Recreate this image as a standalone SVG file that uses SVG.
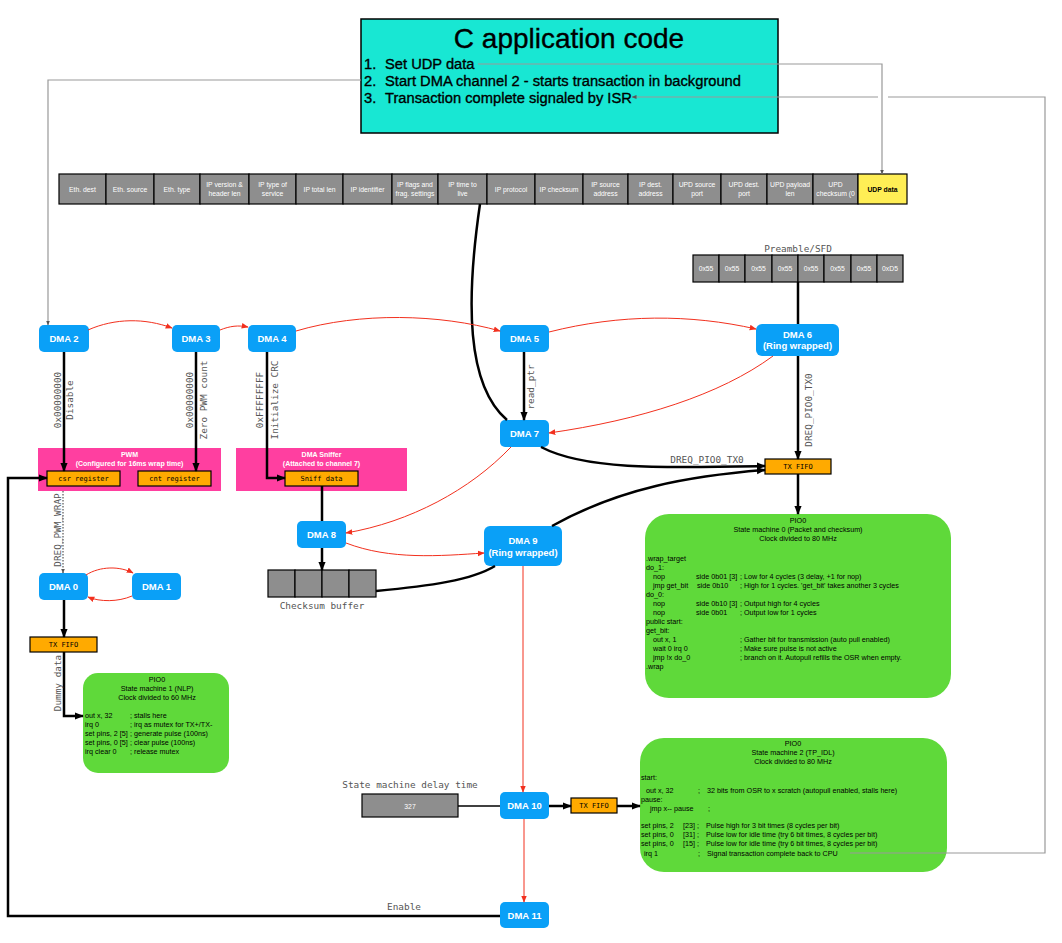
<svg xmlns="http://www.w3.org/2000/svg" width="1062" height="943" viewBox="0 0 1062 943">
<style>
.dma{fill:#0AA0F7}
.dt{font-family:"Liberation Sans",Arial,sans-serif;font-size:9.5px;font-weight:bold;fill:#fff;text-anchor:middle}
.hc{fill:#8E8E8E;stroke:#000;stroke-width:1.2}
.ht{font-family:"Liberation Sans",Arial,sans-serif;font-size:6.8px;fill:#fff;text-anchor:middle}
.pc{fill:#8E8E8E;stroke:#000;stroke-width:1.2}
.pt{font-family:"Liberation Sans",Arial,sans-serif;font-size:6.8px;fill:#fff;text-anchor:middle}
.lblm{font-family:"DejaVu Sans Mono","Liberation Mono",monospace;font-size:9.4px;fill:#555;text-anchor:middle}
.or{fill:#FFAA00;stroke:#000;stroke-width:1.2}
.ot{font-family:"DejaVu Sans Mono","Liberation Mono",monospace;font-size:7px;fill:#000;text-anchor:middle}
.pink{fill:#FF3FA0}
.pkt{font-family:"Liberation Sans",Arial,sans-serif;font-size:7px;font-weight:bold;fill:#fff;text-anchor:middle}
.green{fill:#5FD93A}
.gt{font-family:"Liberation Sans",Arial,sans-serif;font-size:7.2px;fill:#000}
.gtc{font-family:"Liberation Sans",Arial,sans-serif;font-size:7.2px;fill:#000;text-anchor:middle}
.blk{fill:none;stroke:#000;stroke-width:2.5}
.thin{fill:none;stroke:#000;stroke-width:1.5}
.red{fill:none;stroke:#F2301E;stroke-width:1}
.gray{fill:none;stroke:#999;stroke-width:1.2}
.ct{font-family:"Liberation Sans",Arial,sans-serif;fill:#000;stroke:#000;stroke-width:0.35}
</style>
<defs>
<marker id="ab" viewBox="0 0 10 10" refX="9" refY="5" markerWidth="9" markerHeight="9" orient="auto" markerUnits="userSpaceOnUse"><path d="M0,1 L10,5 L0,9 z" fill="#000"/></marker>
<marker id="ar" viewBox="0 0 10 10" refX="9" refY="5" markerWidth="7" markerHeight="7" orient="auto" markerUnits="userSpaceOnUse"><path d="M0,1 L10,5 L0,9 z" fill="#F2301E"/></marker>
<marker id="ag" viewBox="0 0 10 10" refX="9" refY="5" markerWidth="5" markerHeight="5" orient="auto" markerUnits="userSpaceOnUse"><path d="M0,1 L10,5 L0,9 z" fill="#555"/></marker>
</defs>
<rect width="1062" height="943" fill="#fff"/>

<g id="app">
<rect x="361" y="19" width="417" height="114" fill="#18E7D3" stroke="#000" stroke-width="1.5"/>
<text x="569" y="48" class="ct" font-size="28" text-anchor="middle" stroke-width="0.3">C application code</text>
<text x="364" y="69" class="ct" font-size="14.7">1.</text><text x="385" y="69" class="ct" font-size="14.7">Set UDP data</text>
<text x="364" y="86" class="ct" font-size="14.7">2.</text><text x="385" y="86" class="ct" font-size="14.7">Start DMA channel 2 - starts transaction in background</text>
<text x="364" y="103" class="ct" font-size="14.7">3.</text><text x="385" y="103" class="ct" font-size="14.7">Transaction complete signaled by ISR</text>
</g>

<g id="header">
<rect class="hc" x="59" y="174" width="47" height="30"/><text class="ht" x="82.5" y="191.5">Eth. dest</text>
<rect class="hc" x="106" y="174" width="48" height="30"/><text class="ht" x="130" y="191.5">Eth. source</text>
<rect class="hc" x="154" y="174" width="46" height="30"/><text class="ht" x="177" y="191.5">Eth. type</text>
<rect class="hc" x="200" y="174" width="49" height="30"/><text class="ht" x="224.5" y="187">IP version &amp;</text><text class="ht" x="224.5" y="196">header len</text>
<rect class="hc" x="249" y="174" width="47" height="30"/><text class="ht" x="272.5" y="187">IP type of</text><text class="ht" x="272.5" y="196">service</text>
<rect class="hc" x="296" y="174" width="47" height="30"/><text class="ht" x="319.5" y="191.5">IP total len</text>
<rect class="hc" x="343" y="174" width="49" height="30"/><text class="ht" x="367.5" y="191.5">IP identifier</text>
<rect class="hc" x="392" y="174" width="46" height="30"/><text class="ht" x="415" y="187">IP flags and</text><text class="ht" x="415" y="196">frag. settings</text>
<rect class="hc" x="438" y="174" width="49" height="30"/><text class="ht" x="462.5" y="187">IP time to</text><text class="ht" x="462.5" y="196">live</text>
<rect class="hc" x="487" y="174" width="48" height="30"/><text class="ht" x="511" y="191.5">IP protocol</text>
<rect class="hc" x="535" y="174" width="48" height="30"/><text class="ht" x="559" y="191.5">IP checksum</text>
<rect class="hc" x="583" y="174" width="45" height="30"/><text class="ht" x="605.5" y="187">IP source</text><text class="ht" x="605.5" y="196">address</text>
<rect class="hc" x="628" y="174" width="45" height="30"/><text class="ht" x="650.5" y="187">IP dest.</text><text class="ht" x="650.5" y="196">address</text>
<rect class="hc" x="673" y="174" width="48" height="30"/><text class="ht" x="697" y="187">UPD source</text><text class="ht" x="697" y="196">port</text>
<rect class="hc" x="721" y="174" width="46" height="30"/><text class="ht" x="744" y="187">UPD dest.</text><text class="ht" x="744" y="196">port</text>
<rect class="hc" x="767" y="174" width="46" height="30"/><text class="ht" x="790" y="187">UPD payload</text><text class="ht" x="790" y="196">len</text>
<rect class="hc" x="813" y="174" width="45" height="30"/><text class="ht" x="835.5" y="187">UPD</text><text class="ht" x="835.5" y="196">checksum (0</text>
<rect x="858" y="174" width="49" height="30" fill="#FFEE55" stroke="#000" stroke-width="1.2"/><text class="ht" x="882.5" y="191.5" style="fill:#000;font-weight:bold">UDP data</text>
</g>

<g id="preamble">
<text class="lblm" x="798" y="252">Preamble/SFD</text>
<rect class="pc" x="693" y="255" width="26" height="27"/><text class="pt" x="706" y="271">0x55</text>
<rect class="pc" x="719" y="255" width="26" height="27"/><text class="pt" x="732" y="271">0x55</text>
<rect class="pc" x="745" y="255" width="27" height="27"/><text class="pt" x="758.5" y="271">0x55</text>
<rect class="pc" x="772" y="255" width="26" height="27"/><text class="pt" x="785" y="271">0x55</text>
<rect class="pc" x="798" y="255" width="26" height="27"/><text class="pt" x="811" y="271">0x55</text>
<rect class="pc" x="824" y="255" width="27" height="27"/><text class="pt" x="837.5" y="271">0x55</text>
<rect class="pc" x="851" y="255" width="26" height="27"/><text class="pt" x="864" y="271">0x55</text>
<rect class="pc" x="877" y="255" width="26" height="27"/><text class="pt" x="890" y="271">0xD5</text>
</g>

<g id="pwm">
<rect class="pink" x="38" y="448" width="183" height="43"/>
<text class="pkt" x="129.5" y="457">PWM</text>
<text class="pkt" x="129.5" y="466">(Configured for 16ms wrap time)</text>
<rect class="or" x="47" y="471" width="73" height="15"/><text class="ot" x="83.5" y="481">csr register</text>
<rect class="or" x="138" y="471" width="73" height="15"/><text class="ot" x="174.5" y="481">cnt register</text>
</g>

<g id="sniffer">
<rect class="pink" x="236" y="448" width="171" height="43"/>
<text class="pkt" x="321.5" y="457">DMA Sniffer</text>
<text class="pkt" x="321.5" y="466">(Attached to channel 7)</text>
<rect class="or" x="285" y="471" width="73" height="15"/><text class="ot" x="321.5" y="481">Sniff data</text>
</g>

<g id="checksum-buffer">
<rect class="pc" x="268" y="570" width="27" height="27"/>
<rect class="pc" x="295" y="570" width="27" height="27"/>
<rect class="pc" x="322" y="570" width="27" height="27"/>
<rect class="pc" x="349" y="570" width="27" height="27"/>
<text class="lblm" x="322" y="609">Checksum buffer</text>
</g>

<g id="delay">
<text class="lblm" x="410" y="788">State machine delay time</text>
<rect class="pc" x="362" y="794" width="96" height="23"/><text class="pt" x="410" y="808.5">327</text>
</g>

<g id="txfifo-a"><rect class="or" x="765" y="459" width="66" height="15"/><text class="ot" x="798" y="469">TX FIFO</text></g>
<g id="txfifo-b"><rect class="or" x="30" y="637" width="67" height="15"/><text class="ot" x="63.5" y="647">TX FIFO</text></g>
<g id="txfifo-c"><rect class="or" x="571" y="798" width="46" height="15"/><text class="ot" x="594" y="808">TX FIFO</text></g>

<g id="dma2"><rect class="dma" x="39" y="325" width="50" height="27" rx="5"/><text class="dt" x="64" y="342">DMA 2</text></g>
<g id="dma3"><rect class="dma" x="172" y="325" width="48" height="27" rx="5"/><text class="dt" x="196" y="342">DMA 3</text></g>
<g id="dma4"><rect class="dma" x="248" y="325" width="48" height="27" rx="5"/><text class="dt" x="272" y="342">DMA 4</text></g>
<g id="dma5"><rect class="dma" x="500" y="325" width="49" height="27" rx="5"/><text class="dt" x="524.5" y="342">DMA 5</text></g>
<g id="dma6"><rect class="dma" x="756" y="324" width="83" height="32" rx="6"/><text class="dt" x="797.5" y="337.5">DMA 6</text><text class="dt" x="797.5" y="349">(Ring wrapped)</text></g>
<g id="dma7"><rect class="dma" x="500" y="420" width="49" height="27" rx="5"/><text class="dt" x="524.5" y="437">DMA 7</text></g>
<g id="dma8"><rect class="dma" x="297" y="521" width="49" height="27" rx="5"/><text class="dt" x="321.5" y="538">DMA 8</text></g>
<g id="dma9"><rect class="dma" x="484" y="526" width="78" height="40" rx="6"/><text class="dt" x="523" y="544">DMA 9</text><text class="dt" x="523" y="556">(Ring wrapped)</text></g>
<g id="dma0"><rect class="dma" x="39" y="573" width="49" height="27" rx="5"/><text class="dt" x="63.5" y="590">DMA 0</text></g>
<g id="dma1"><rect class="dma" x="132" y="573" width="49" height="27" rx="5"/><text class="dt" x="156.5" y="590">DMA 1</text></g>
<g id="dma10"><rect class="dma" x="500" y="792" width="49" height="27" rx="5"/><text class="dt" x="524.5" y="809">DMA 10</text></g>
<g id="dma11"><rect class="dma" x="500" y="902" width="49" height="26" rx="5"/><text class="dt" x="524.5" y="919">DMA 11</text></g>

<g id="sm0">
<rect class="green" x="645" y="514" width="306" height="184" rx="24"/>
<text class="gtc" x="798" y="523">PIO0</text>
<text class="gtc" x="798" y="532">State machine 0 (Packet and checksum)</text>
<text class="gtc" x="798" y="541">Clock divided to 80 MHz</text>
<text class="gt" x="646" y="561">.wrap_target</text>
<text class="gt" x="646" y="570">do_1:</text>
<text class="gt" x="653" y="579">nop</text><text class="gt" x="696" y="579">side 0b01 [3]</text><text class="gt" x="740" y="579">; Low for 4 cycles (3 delay, +1 for nop)</text>
<text class="gt" x="653" y="588">jmp get_bit</text><text class="gt" x="697" y="588">side 0b10</text><text class="gt" x="740" y="588">; High for 1 cycles. 'get_bit' takes another 3 cycles</text>
<text class="gt" x="646" y="597">do_0:</text>
<text class="gt" x="653" y="606">nop</text><text class="gt" x="696" y="606">side 0b10 [3]</text><text class="gt" x="740" y="606">; Output high for 4 cycles</text>
<text class="gt" x="653" y="615">nop</text><text class="gt" x="696" y="615">side 0b01</text><text class="gt" x="740" y="615">; Output low for 1 cycles</text>
<text class="gt" x="646" y="624">public start:</text>
<text class="gt" x="646" y="633">get_bit:</text>
<text class="gt" x="653" y="642">out x, 1</text><text class="gt" x="740" y="642">; Gather bit for transmission (auto pull enabled)</text>
<text class="gt" x="653" y="651">wait 0 irq 0</text><text class="gt" x="740" y="651">; Make sure pulse is not active</text>
<text class="gt" x="653" y="660">jmp !x do_0</text><text class="gt" x="740" y="660">; branch on it. Autopull refills the OSR when empty.</text>
<text class="gt" x="646" y="669">.wrap</text>
</g>

<g id="sm1">
<rect class="green" x="83" y="673" width="146" height="100" rx="15"/>
<text class="gtc" x="157" y="682">PIO0</text>
<text class="gtc" x="157" y="691">State machine 1 (NLP)</text>
<text class="gtc" x="157" y="700">Clock divided to 60 MHz</text>
<text class="gt" x="85" y="718">out x, 32</text><text class="gt" x="130" y="718">; stalls here</text>
<text class="gt" x="85" y="727">irq 0</text><text class="gt" x="130" y="727">; irq as mutex for TX+/TX-</text>
<text class="gt" x="85" y="736">set pins, 2 [5]</text><text class="gt" x="130" y="736">; generate pulse (100ns)</text>
<text class="gt" x="85" y="745">set pins, 0 [5]</text><text class="gt" x="130" y="745">; clear pulse (100ns)</text>
<text class="gt" x="85" y="754">irq clear 0</text><text class="gt" x="130" y="754">; release mutex</text>
</g>

<g id="sm2">
<rect class="green" x="640" y="738" width="307" height="134" rx="24"/>
<text class="gtc" x="793" y="746">PIO0</text>
<text class="gtc" x="793" y="755">State machine 2 (TP_IDL)</text>
<text class="gtc" x="793" y="764">Clock divided to 80 MHz</text>
<text class="gt" x="641" y="780">start:</text>
<text class="gt" x="646" y="793">out x, 32</text><text class="gt" x="698" y="793">;</text><text class="gt" x="707" y="793">32 bits from OSR to x scratch (autopull enabled, stalls here)</text>
<text class="gt" x="641" y="802">pause:</text>
<text class="gt" x="650" y="811">jmp x-- pause</text><text class="gt" x="708" y="811">;</text>
<text class="gt" x="641" y="828">set pins, 2</text><text class="gt" x="683" y="828">[23] ;</text><text class="gt" x="706" y="828">Pulse high for 3 bit times (8 cycles per bit)</text>
<text class="gt" x="641" y="837">set pins, 0</text><text class="gt" x="683" y="837">[31] ;</text><text class="gt" x="706" y="837">Pulse low for idle time (try 6 bit times, 8 cycles per bit)</text>
<text class="gt" x="641" y="846">set pins, 0</text><text class="gt" x="683" y="846">[15] ;</text><text class="gt" x="706" y="846">Pulse low for idle time (try 6 bit times, 8 cycles per bit)</text>
<text class="gt" x="644" y="856">irq 1</text><text class="gt" x="698" y="856">;</text><text class="gt" x="707" y="856">Signal transaction complete back to CPU</text>
</g>

<g id="connectors">
<path class="gray" d="M478,64 L882,64 L882,174" marker-end="url(#ag)"/>
<path class="gray" d="M361,80 L48,80 L48,325" marker-end="url(#ag)"/>
<path class="gray" d="M850,853 L1045,853 L1045,97 L888,97"/>
<path class="gray" d="M878,97 L632,97" marker-end="url(#ag)"/>
<path class="blk" d="M480,204 C466,300 466,385 507,420"/>
<path class="blk" d="M798,282 L798,324"/>
<path class="blk" d="M64,352 L64,471" marker-end="url(#ab)"/>
<path class="blk" d="M196,352 L196,471" marker-end="url(#ab)"/>
<path class="blk" d="M267,352 L267,478 L285,478" marker-end="url(#ab)"/>
<path class="blk" d="M322,486 L322,521"/>
<path class="blk" d="M322,548 L322,570" marker-end="url(#ab)"/>
<path class="blk" d="M376,591 C430,586 472,580 495,566"/>
<path class="blk" d="M524,352 L524,420" marker-end="url(#ab)"/>
<path class="blk" d="M798,356 L798,459" marker-end="url(#ab)"/>
<path class="blk" d="M798,474 L798,514" marker-end="url(#ab)"/>
<path class="blk" d="M541,447 C585,470 660,468 765,466" marker-end="url(#ab)"/>
<path class="blk" d="M552,526 C620,488 690,476 765,470" marker-end="url(#ab)"/>
<path d="M63,491 L63,573" fill="none" stroke="#333" stroke-width="1" stroke-dasharray="1.5,1.5" marker-end="url(#ag)"/>
<path class="blk" d="M64,600 L64,637" marker-end="url(#ab)"/>
<path class="blk" d="M64,652 L64,716 L83,716" marker-end="url(#ab)"/>
<path class="thin" d="M458,806 L500,806"/>
<path class="blk" d="M549,806 L571,806" marker-end="url(#ab)"/>
<path class="blk" d="M617,806 L640,806" marker-end="url(#ab)"/>
<path class="blk" d="M500,916 L8,916 L8,478 L47,478" marker-end="url(#ab)"/>
<path class="red" d="M88,330 C115,318 145,318 172,328" marker-end="url(#ar)"/>
<path class="red" d="M220,330 C230,326 238,325 248,327" marker-end="url(#ar)"/>
<path class="red" d="M296,331 C360,312 440,314 500,331" marker-end="url(#ar)"/>
<path class="red" d="M549,332 C620,314 690,314 756,329" marker-end="url(#ar)"/>
<path class="red" d="M773,356 C720,395 640,420 549,433" marker-end="url(#ar)"/>
<path class="red" d="M511,447 C470,490 410,522 346,533" marker-end="url(#ar)"/>
<path class="red" d="M346,543 C390,560 440,556 484,553" marker-end="url(#ar)"/>
<path class="red" d="M86,575 C100,566 120,566 133,573" marker-end="url(#ar)"/>
<path class="red" d="M132,596 C118,602 100,602 88,597" marker-end="url(#ar)"/>
<path class="red" d="M523,566 L523,792" marker-end="url(#ar)"/>
<path class="red" d="M524,819 L524,902" marker-end="url(#ar)"/>
<text class="lblm" transform="rotate(-90 61 400)" x="61" y="400">0x00000000</text>
<text class="lblm" transform="rotate(-90 73 400)" x="73" y="400">Disable</text>
<text class="lblm" transform="rotate(-90 193 400)" x="193" y="400">0x00000000</text>
<text class="lblm" transform="rotate(-90 207 400)" x="207" y="400">Zero PWM count</text>
<text class="lblm" transform="rotate(-90 263 400)" x="263" y="400">0xFFFFFFFF</text>
<text class="lblm" transform="rotate(-90 278 400)" x="278" y="400">Initialize CRC</text>
<text class="lblm" transform="rotate(-90 534 387)" x="534" y="387">read_ptr</text>
<text class="lblm" transform="rotate(-90 812 410)" x="812" y="410">DREQ_PIO0_TX0</text>
<text class="lblm" x="707" y="463">DREQ_PIO0_TX0</text>
<text class="lblm" transform="rotate(-90 61 530)" x="61" y="530">DREQ_PWM_WRAP</text>
<text class="lblm" transform="rotate(-90 61 683)" x="61" y="683">Dummy data</text>
<text class="lblm" x="404" y="910">Enable</text>
</g>
</svg>
